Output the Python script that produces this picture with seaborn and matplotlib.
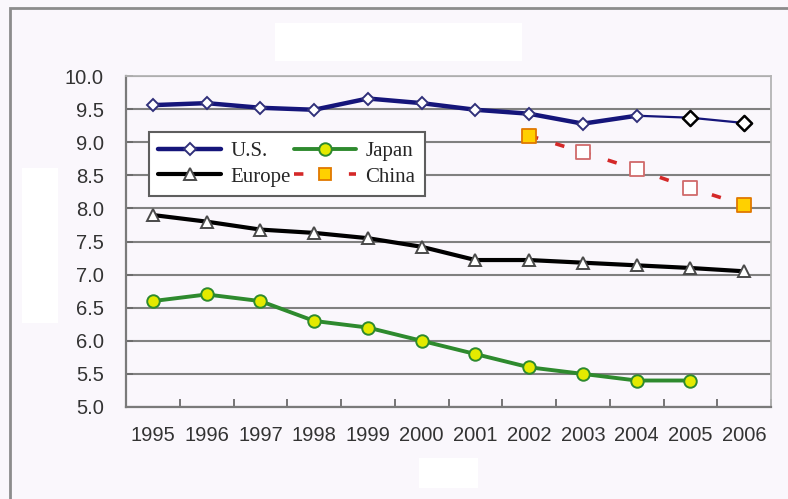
import numpy as np
import pandas as pd
import matplotlib
matplotlib.use("Agg")
import matplotlib.pyplot as plt
from matplotlib.lines import Line2D
from matplotlib.patches import Rectangle
from matplotlib.ticker import FixedLocator, FixedFormatter, NullFormatter
import seaborn as sns

# ---- data -------------------------------------------------------------
years = [1995, 1996, 1997, 1998, 1999, 2000, 2001, 2002, 2003, 2004, 2005, 2006]
us = [9.56, 9.59, 9.52, 9.49, 9.66, 9.59, 9.49, 9.43, 9.28, 9.40, 9.37, 9.29]
europe = [7.90, 7.80, 7.68, 7.63, 7.55, 7.42, 7.22, 7.22, 7.18, 7.14, 7.10, 7.05]
japan_years = [1995, 1996, 1997, 1998, 1999, 2000, 2001, 2002, 2003, 2004, 2005]
japan = [6.6, 6.7, 6.6, 6.3, 6.2, 6.0, 5.8, 5.6, 5.5, 5.4, 5.4]
china_years = [2002, 2003, 2004, 2005, 2006]
china = [9.10, 8.85, 8.59, 8.31, 8.05]
y_ticks = [5.0, 5.5, 6.0, 6.5, 7.0, 7.5, 8.0, 8.5, 9.0, 9.5, 10.0]
series_names = ["U.S.", "Europe", "Japan", "China"]

# ---- style ------------------------------------------------------------
sns.set_theme(style="white")
plt.rcParams["font.family"] = ["Liberation Sans", "DejaVu Sans"]

BG = "#faf7fc"
NAVY = "#15157a"
GREEN = "#2e8a2e"
YELLOW = "#e4ea00"
RED = "#d42828"
GOLD = "#ffd000"
ORANGE = "#e07800"

W, H = 788, 499
fig = plt.figure(figsize=(W / 100, H / 100), dpi=100, facecolor=BG)
ax = fig.add_axes([126 / W, 1 - 407 / H, (771 - 126) / W, (407 - 76) / H])
ax.set_facecolor(BG)

idx = {y: i for i, y in enumerate(years)}

us_df = pd.DataFrame({"x": [idx[y] for y in years], "v": us})
eu_df = pd.DataFrame({"x": [idx[y] for y in years], "v": europe})
jp_df = pd.DataFrame({"x": [idx[y] for y in japan_years], "v": japan})
cn_df = pd.DataFrame({"x": [idx[y] for y in china_years], "v": china})

# China: dashed red trend with square markers (end points filled)
sns.lineplot(data=cn_df, x="x", y="v", ax=ax, color=RED, lw=2.6,
             estimator=None, sort=False, zorder=2)
ax.lines[-1].set_dashes([2.6, 5.0])
ends = cn_df.iloc[[0, -1]]
mids = cn_df.iloc[1:-1]
sns.scatterplot(data=mids, x="x", y="v", ax=ax, marker="s", s=95,
                color="white", edgecolor="#d06a6a", linewidth=1.3, zorder=3)
sns.scatterplot(data=ends, x="x", y="v", ax=ax, marker="s", s=95,
                color=GOLD, edgecolor=ORANGE, linewidth=1.3, zorder=3)

# U.S.: thick line through 2004, thin extension afterwards
head = us_df[us_df.x <= idx[2004]]
tail = us_df[us_df.x >= idx[2004]]
sns.lineplot(data=tail, x="x", y="v", ax=ax, color=NAVY, lw=1.6,
             estimator=None, sort=False, zorder=4)
sns.scatterplot(data=tail.iloc[1:], x="x", y="v", ax=ax, marker="D", s=60,
                color="white", edgecolor="black", linewidth=1.8, zorder=5)
sns.lineplot(data=head, x="x", y="v", ax=ax, color=NAVY, lw=3.2,
             marker="D", ms=6.5, mfc="white", mec="#30307a", mew=1.4,
             estimator=None, sort=False, zorder=5)

# Europe
sns.lineplot(data=eu_df, x="x", y="v", ax=ax, color="black", lw=3.0,
             marker="^", ms=8.5, mfc="white", mec="#4a4a4a", mew=1.4,
             estimator=None, sort=False, zorder=4)

# Japan
sns.lineplot(data=jp_df, x="x", y="v", ax=ax, color=GREEN, lw=2.8,
             marker="o", ms=9, mfc=YELLOW, mec=GREEN, mew=1.4,
             estimator=None, sort=False, zorder=4)

# ---- axes -------------------------------------------------------------
ax.set_xlim(-0.5, len(years) - 0.5)
ax.set_ylim(5.0, 10.0)
ax.set_xlabel("")
ax.set_ylabel("")

ax.xaxis.set_major_locator(FixedLocator(np.arange(-0.5, len(years), 1.0)))
ax.xaxis.set_major_formatter(NullFormatter())
ax.xaxis.set_minor_locator(FixedLocator(np.arange(len(years))))
ax.xaxis.set_minor_formatter(FixedFormatter([str(y) for y in years]))
ax.tick_params(axis="x", which="major", direction="in", length=6, width=1.3,
               color="#6a6a6a", bottom=True)
ax.tick_params(axis="x", which="minor", length=0, pad=14, labelsize=14.5,
               labelcolor="#333333", bottom=True)

ax.set_yticks(y_ticks)
ax.set_yticklabels([f"{t:.1f}" for t in y_ticks])
ax.tick_params(axis="y", direction="in", length=5, width=1.3, color="#6a6a6a",
               pad=16, labelsize=14.5, labelcolor="#333333", left=True)

ax.yaxis.grid(True, color="#808080", lw=1.5)
ax.xaxis.grid(False)
ax.set_axisbelow(True)

for side in ("left", "bottom"):
    ax.spines[side].set_color("#7a7a7a")
    ax.spines[side].set_linewidth(1.6)
for side in ("top", "right"):
    ax.spines[side].set_color("#b4b4b4")
    ax.spines[side].set_linewidth(1.3)

# ---- legend -----------------------------------------------------------
handles = [
    Line2D([], [], color=NAVY, lw=3.2, marker="D", ms=6.5, mfc="white",
           mec="#30307a", mew=1.4),
    Line2D([], [], color="black", lw=3.0, marker="^", ms=8.5, mfc="white",
           mec="#4a4a4a", mew=1.4),
    Line2D([], [], color=GREEN, lw=2.8, marker="o", ms=9, mfc=YELLOW,
           mec=GREEN, mew=1.4),
    Line2D([], [], color=RED, lw=2.6, dashes=[2.6, 5.0], marker="s", ms=9,
           mfc=GOLD, mec=ORANGE, mew=1.3),
]
leg = ax.legend(handles, series_names, ncol=2, loc="upper left",
                bbox_to_anchor=(149 / W, 1 - 132 / H),
                bbox_transform=fig.transFigure, borderaxespad=0,
                frameon=True, fancybox=False, framealpha=1,
                facecolor="white", edgecolor="#5e5e5e",
                prop={"family": "Liberation Serif", "size": 15},
                handlelength=3.0, handletextpad=0.45, columnspacing=0.15,
                borderpad=0.45, labelspacing=0.3, numpoints=1)
leg.get_frame().set_linewidth(1.5)
leg.set_zorder(10)

# ---- figure frame and blank caption panels ----------------------------
fig.patches.append(Rectangle((10 / W, -0.05), 1.2, 1.05 - 8 / H,
                             transform=fig.transFigure, fill=False,
                             edgecolor="#8c8c8c", lw=2.0, zorder=0))
for (x0, y0, x1, y1) in [(275, 23, 522, 61), (22, 168, 58, 323),
                         (419, 458, 478, 488)]:
    fig.patches.append(Rectangle((x0 / W, 1 - y1 / H), (x1 - x0) / W,
                                 (y1 - y0) / H, transform=fig.transFigure,
                                 facecolor="white", edgecolor="none",
                                 zorder=0))

fig.savefig("out.png", dpi=100, facecolor=BG)
